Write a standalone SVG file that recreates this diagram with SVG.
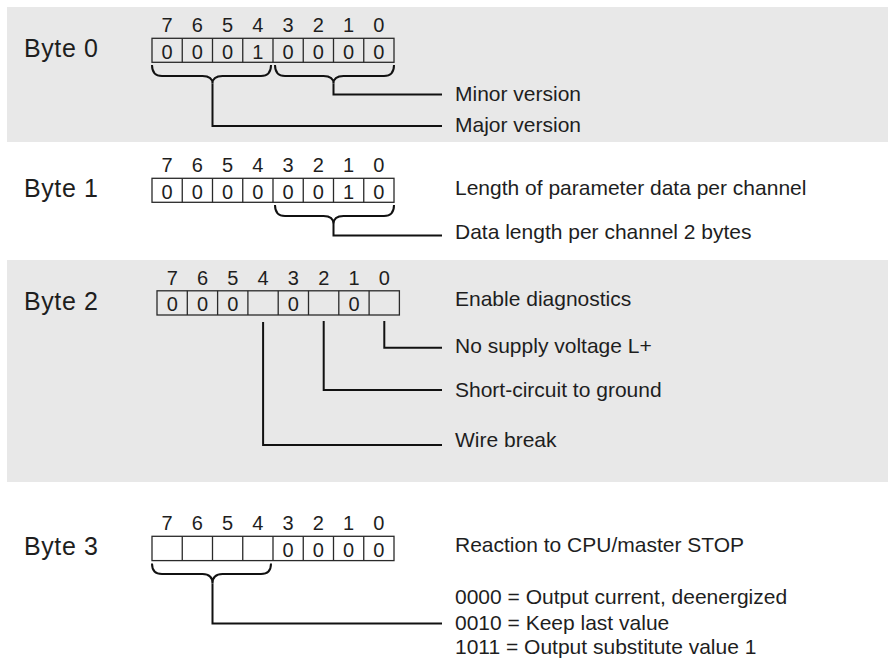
<svg xmlns="http://www.w3.org/2000/svg" width="888" height="658" viewBox="0 0 888 658">
<defs>
<style>
.bg{fill:#e8e8e8;stroke:none}
.cell{fill:none;stroke:#2a2a2a;stroke-width:1.3}
.lbl{font-family:"Liberation Sans",Arial,sans-serif;font-size:25px;fill:#1e1e1e;letter-spacing:0.6px}
.bit{font-family:"Liberation Sans",Arial,sans-serif;font-size:20px;fill:#1e1e1e;text-anchor:middle}
.txt{font-family:"Liberation Sans",Arial,sans-serif;font-size:21px;fill:#1e1e1e}
.con{fill:none;stroke:#111;stroke-width:2}
</style>
</defs>
<rect width="888" height="658" fill="#ffffff"/>
<rect class="bg" x="7" y="7" width="881" height="135"/>
<rect class="bg" x="7" y="260" width="881" height="222"/>

<g id="byte0">
<text class="lbl" x="24" y="57.3">Byte 0</text>
<g class="bit">
<text x="167.1" y="31.7">7</text><text x="197.4" y="31.7">6</text><text x="227.6" y="31.7">5</text><text x="257.9" y="31.7">4</text>
<text x="288.1" y="31.7">3</text><text x="318.4" y="31.7">2</text><text x="348.6" y="31.7">1</text><text x="378.9" y="31.7">0</text>
</g>
<g class="cell">
<rect x="152" y="38.3" width="242" height="24"/>
<path d="M182.25 38.3V62.3M212.5 38.3V62.3M242.75 38.3V62.3M273 38.3V62.3M303.25 38.3V62.3M333.5 38.3V62.3M363.75 38.3V62.3"/>
</g>
<g class="bit">
<text x="167.1" y="58.5">0</text><text x="197.4" y="58.5">0</text><text x="227.6" y="58.5">0</text><text x="257.9" y="58.5">1</text>
<text x="288.1" y="58.5">0</text><text x="318.4" y="58.5">0</text><text x="348.6" y="58.5">0</text><text x="378.9" y="58.5">0</text>
</g>
</g>

<g id="byte1">
<text class="lbl" x="24" y="197.3">Byte 1</text>
<g class="bit">
<text x="167.1" y="171.7">7</text><text x="197.4" y="171.7">6</text><text x="227.6" y="171.7">5</text><text x="257.9" y="171.7">4</text>
<text x="288.1" y="171.7">3</text><text x="318.4" y="171.7">2</text><text x="348.6" y="171.7">1</text><text x="378.9" y="171.7">0</text>
</g>
<g class="cell">
<rect x="152" y="178.3" width="242" height="24"/>
<path d="M182.25 178.3V202.3M212.5 178.3V202.3M242.75 178.3V202.3M273 178.3V202.3M303.25 178.3V202.3M333.5 178.3V202.3M363.75 178.3V202.3"/>
</g>
<g class="bit">
<text x="167.1" y="198.5">0</text><text x="197.4" y="198.5">0</text><text x="227.6" y="198.5">0</text><text x="257.9" y="198.5">0</text>
<text x="288.1" y="198.5">0</text><text x="318.4" y="198.5">0</text><text x="348.6" y="198.5">1</text><text x="378.9" y="198.5">0</text>
</g>
</g>

<g id="byte2">
<text class="lbl" x="24" y="310">Byte 2</text>
<g class="bit">
<text x="172.2" y="284.5">7</text><text x="202.5" y="284.5">6</text><text x="232.8" y="284.5">5</text><text x="263.1" y="284.5">4</text>
<text x="293.4" y="284.5">3</text><text x="323.7" y="284.5">2</text><text x="354" y="284.5">1</text><text x="384.3" y="284.5">0</text>
</g>
<g class="cell">
<rect x="157" y="290.8" width="242.4" height="24.2"/>
<path d="M187.3 290.8V315M217.6 290.8V315M247.9 290.8V315M278.2 290.8V315M308.5 290.8V315M338.8 290.8V315M369.1 290.8V315"/>
</g>
<g class="bit">
<text x="172.2" y="311">0</text><text x="202.5" y="311">0</text><text x="232.8" y="311">0</text>
<text x="293.4" y="311">0</text><text x="354" y="311">0</text>
</g>
</g>

<g id="byte3">
<text class="lbl" x="24" y="555">Byte 3</text>
<g class="bit">
<text x="167.1" y="530">7</text><text x="197.4" y="530">6</text><text x="227.6" y="530">5</text><text x="257.9" y="530">4</text>
<text x="288.1" y="530">3</text><text x="318.4" y="530">2</text><text x="348.6" y="530">1</text><text x="378.9" y="530">0</text>
</g>
<g class="cell">
<rect x="152" y="536.3" width="242" height="24.3"/>
<path d="M182.25 536.3V560.6M212.5 536.3V560.6M242.75 536.3V560.6M273 536.3V560.6M303.25 536.3V560.6M333.5 536.3V560.6M363.75 536.3V560.6"/>
</g>
<g class="bit">
<text x="288.1" y="556.5">0</text><text x="318.4" y="556.5">0</text><text x="348.6" y="556.5">0</text><text x="378.9" y="556.5">0</text>
</g>
</g>

<g id="labels">
<text id="t-minor" class="txt" x="455" y="100.7">Minor version</text>
<text id="t-major" class="txt" x="455" y="132.3">Major version</text>
<text id="t-len" class="txt" x="455" y="195">Length of parameter data per channel</text>
<text id="t-dlen" class="txt" x="455" y="239.3">Data length per channel 2 bytes</text>
<text id="t-diag" class="txt" x="455" y="306">Enable diagnostics</text>
<text id="t-supply" class="txt" x="455" y="353.3">No supply voltage L+</text>
<text id="t-short" class="txt" x="455" y="397.3">Short-circuit to ground</text>
<text id="t-wire" class="txt" x="455" y="446.7">Wire break</text>
<text id="t-react" class="txt" x="455" y="552">Reaction to CPU/master STOP</text>
<text id="t-0000" class="txt" x="455" y="604">0000 = Output current, deenergized</text>
<text id="t-0010" class="txt" x="455" y="629.5">0010 = Keep last value</text>
<text id="t-1011" class="txt" x="455" y="653.5">1011 = Output substitute value 1</text>
</g>

<g id="connectors" class="con">
<path d="M152 65Q152 76 162 76H202.5Q212.5 76 212.5 83.5Q212.5 76 222.5 76H261Q271 76 271 65"/>
<path d="M275 65Q275 76 285 76H323.5Q333.5 76 333.5 83.5Q333.5 76 343.5 76H384Q394 76 394 65"/>
<path d="M333.5 83.5V94.5H442"/>
<path d="M212.5 83.5V126H442"/>
<path d="M275 205Q275 216 285 216H323.5Q333.5 216 333.5 224Q333.5 216 343.5 216H384Q394 216 394 205"/>
<path d="M333.5 224V235.5H442"/>
<path d="M384.3 321V347.7H442"/>
<path d="M323.7 321V390H442"/>
<path d="M263.1 322V445H442"/>
<path d="M152 563.5Q152 574 162 574H202.5Q212.5 574 212.5 583.5Q212.5 574 222.5 574H261Q271 574 271 563.5"/>
<path d="M212.5 583.5V623.5H442"/>
</g>
</svg>
